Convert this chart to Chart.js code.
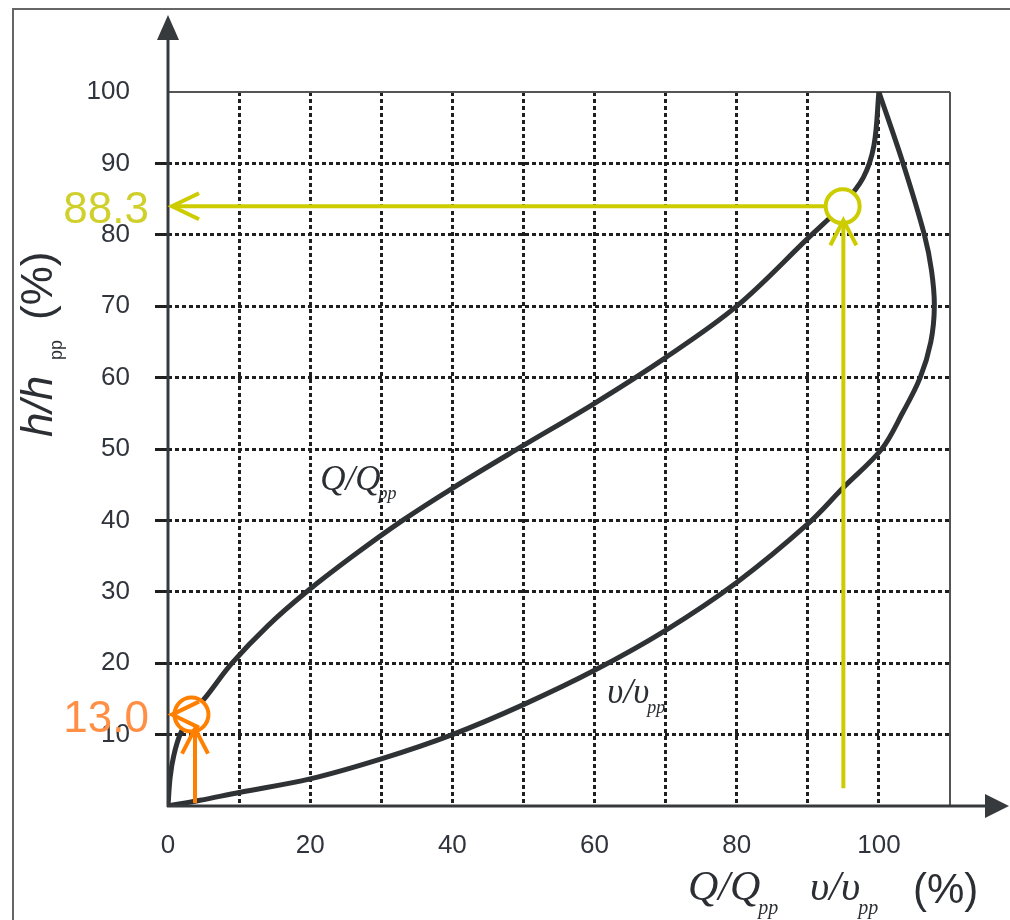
<!DOCTYPE html>
<html>
<head>
<meta charset="utf-8">
<script src="https://cdn.jsdelivr.net/npm/chart.js@4.4.0/dist/chart.umd.min.js"></script>
<style>
  html, body { margin: 0; padding: 0; background: #fff; }
  #wrap { position: relative; width: 1010px; height: 920px; }
</style>
</head>
<body>
<div id="wrap"><canvas id="chart"></canvas></div>
<script>
// Q/Qpp curve : x = Q/Qpp (%), y = h/hpp (%)
const qX = [0, 0.3, 0.8, 1.7, 3.3, 5.5, 9.0, 14.0, 19.5, 26.0, 33.0, 40.0, 50.0, 60.0, 70.0, 80.0, 90.0, 94.9, 97.8, 99.3, 100];
const qY = [0, 4.0, 7.0, 10.0, 12.8, 15.5, 20.0, 25.2, 30.0, 35.0, 40.0, 44.5, 50.5, 56.4, 62.8, 70.0, 79.5, 84.2, 88.0, 92.5, 100];

// v/vpp curve : x = v/vpp (%), y = h/hpp (%)
const vX = [0, 4.5, 10.0, 20.0, 30.0, 40.0, 50.0, 60.0, 70.0, 80.0, 90.0, 95.0, 100.4, 103.3, 105.8, 107.3, 107.8, 107.4, 106.4, 103.4, 100];
const vY = [0, 0.8, 1.9, 3.8, 6.6, 10.0, 14.2, 19.0, 24.6, 31.3, 39.5, 44.6, 50.0, 55.0, 60.0, 65.0, 70.0, 75.0, 80.0, 90.0, 100];

// read-off points (circle + arrows to the h axis)
const markX = [94.9, 3.3];
const markY = [84.0, 12.8];
const markText = ['88.3', '13.0'];
const markColor = ['#cccc00', '#ff8000'];
const markTextColor = ['#d0d02c', '#ff8f45'];
const arrowX = [95.0, 3.8];      // x of the vertical arrows
const arrowFromY = [2.5, 0.4];   // where the vertical arrows start

const xTickLabels = [0, 20, 40, 60, 80, 100];
const yTickLabels = [10, 20, 30, 40, 50, 60, 70, 80, 90, 100];

Chart.defaults.font.family = "'Liberation Sans', Arial, sans-serif";

function chevron(ctx, tx, ty, dx, dy, len, half) {
  const bx = tx - dx * len, by = ty - dy * len;
  ctx.beginPath();
  ctx.moveTo(bx - dy * half, by + dx * half);
  ctx.lineTo(tx, ty);
  ctx.lineTo(bx + dy * half, by - dx * half);
  ctx.stroke();
}

// text with a "pp" subscript
function subText(ctx, main, sub, x, y, font, subFont, subDy) {
  ctx.font = font;
  ctx.fillText(main, x, y);
  const w = ctx.measureText(main).width;
  ctx.font = subFont;
  ctx.fillText(sub, x + w - 2, y + subDy);
}

const decor = {
  id: 'decor',
  afterDraw(chart) {
    const { ctx, scales: { x, y } } = chart;
    const x0 = x.getPixelForValue(0);
    const y0 = y.getPixelForValue(0);
    ctx.save();

    // outer frame
    ctx.strokeStyle = '#666';
    ctx.lineWidth = 2;
    ctx.beginPath();
    ctx.moveTo(13, 920);
    ctx.lineTo(13, 9);
    ctx.lineTo(1010, 9);
    ctx.stroke();

    // axes with arrow heads
    ctx.strokeStyle = '#363a3d';
    ctx.fillStyle = '#363a3d';
    ctx.lineWidth = 3;
    ctx.beginPath();
    ctx.moveTo(x0, y0 + 1);
    ctx.lineTo(x0, 35);
    ctx.moveTo(x0 - 1, y0);
    ctx.lineTo(990, y0);
    ctx.stroke();
    ctx.beginPath();
    ctx.moveTo(x0, 15); ctx.lineTo(x0 - 11, 40); ctx.lineTo(x0 + 11, 40); ctx.closePath();
    ctx.fill();
    ctx.beginPath();
    ctx.moveTo(1009, y0); ctx.lineTo(985, y0 - 12); ctx.lineTo(985, y0 + 12); ctx.closePath();
    ctx.fill();

    // read-off markers
    const r = 17;
    markX.forEach((mx, i) => {
      const cx = x.getPixelForValue(mx);
      const cy = y.getPixelForValue(markY[i]);
      const ax = x.getPixelForValue(arrowX[i]);
      ctx.strokeStyle = markColor[i];
      ctx.lineWidth = 4;
      ctx.beginPath();
      ctx.arc(cx, cy, r, 0, Math.PI * 2);
      ctx.fillStyle = '#fff';
      ctx.fill();
      ctx.stroke();
      // horizontal arrow to the h axis
      const tipX = x0 + 4;
      ctx.beginPath();
      ctx.moveTo(cx - r, cy);
      ctx.lineTo(tipX, cy);
      ctx.stroke();
      chevron(ctx, tipX, cy, -1, 0, 27, 13);
      // vertical arrow from the bottom
      const tipY = cy + r - 3;
      ctx.beginPath();
      ctx.moveTo(ax, y.getPixelForValue(arrowFromY[i]));
      ctx.lineTo(ax, tipY);
      ctx.stroke();
      chevron(ctx, ax, tipY, 0, -1, 25, 13);
      // value label
      ctx.fillStyle = markTextColor[i];
      ctx.font = "44px 'Liberation Sans'";
      ctx.textAlign = 'right';
      ctx.textBaseline = 'middle';
      ctx.fillText(markText[i], 149, cy + 5);
    });

    ctx.textAlign = 'left';
    ctx.textBaseline = 'alphabetic';
    ctx.fillStyle = '#2b2e33';
    const serifI = "italic 35px 'Liberation Serif'";
    const subF = "italic 18px 'Liberation Serif'";

    // curve labels
    subText(ctx, 'Q/Q', 'pp', x.getPixelForValue(21.4), y.getPixelForValue(44.2), serifI, subF, 9);
    subText(ctx, 'υ/υ', 'pp', x.getPixelForValue(61.8), y.getPixelForValue(14.4), serifI, subF, 10);

    // x axis title
    const bigI = "italic 42px 'Liberation Serif'";
    const bigSub = "italic 20px 'Liberation Serif'";
    subText(ctx, 'Q/Q', 'pp', 688, 900, bigI, bigSub, 14);
    subText(ctx, 'υ/υ', 'pp', 810, 900, bigI, bigSub, 14);
    ctx.font = "42px 'Liberation Sans'";
    ctx.fillText('(%)', 913, 903);

    // y axis title (rotated)
    ctx.save();
    ctx.translate(52, 437);
    ctx.rotate(-Math.PI / 2);
    ctx.font = "italic 44px 'Liberation Sans'";
    ctx.fillText('h/h', 0, 0);
    ctx.font = "18px 'Liberation Sans'";
    ctx.fillText('pp', 77, 10);
    ctx.font = "44px 'Liberation Sans'";
    ctx.fillText('(%)', 117, 0);
    ctx.restore();

    ctx.restore();
  }
};

const gridDark = '#1f1f1f';

new Chart(document.getElementById('chart'), {
  type: 'scatter',
  data: {
    datasets: [
      {
        label: 'Q/Qpp',
        data: qX.map((v, i) => ({ x: v, y: qY[i] })),
        showLine: true,
        borderColor: '#2f3234',
        borderWidth: 5,
        borderCapStyle: 'round',
        borderJoinStyle: 'round',
        pointRadius: 0,
        tension: 0.35,
      },
      {
        label: 'v/vpp',
        data: vX.map((v, i) => ({ x: v, y: vY[i] })),
        showLine: true,
        borderColor: '#2f3234',
        borderWidth: 5,
        borderCapStyle: 'round',
        borderJoinStyle: 'round',
        pointRadius: 0,
        tension: 0.35,
      }
    ]
  },
  options: {
    responsive: true,
    maintainAspectRatio: false,
    animation: false,
    layout: { padding: { left: 18, right: 60, top: 92, bottom: 54 } },
    plugins: {
      legend: { display: false },
      tooltip: { enabled: false },
    },
    scales: {
      x: {
        type: 'linear',
        min: 0,
        max: 110,
        afterFit: (s) => { s.height = 60; },
        ticks: {
          stepSize: 10,
          autoSkip: false,
          maxRotation: 0,
          padding: 24,
          color: '#30343c',
          font: { size: 26 },
          callback: (v) => xTickLabels.includes(v) ? String(v) : '',
        },
        grid: {
          drawTicks: false,
          color: (c) => !c.tick ? gridDark : c.tick.value === 0 ? 'rgba(0,0,0,0)' : c.tick.value === 110 ? '#555' : gridDark,
          lineWidth: (c) => (c.tick && c.tick.value === 110) ? 2 : 3,
        },
        border: {
          display: false,
          dash: (c) => (c.tick && c.tick.value === 110) ? [] : [4, 3],
        },
      },
      y: {
        type: 'linear',
        min: 0,
        max: 100,
        afterFit: (s) => { s.width = 150; },
        ticks: {
          stepSize: 10,
          autoSkip: false,
          padding: 25,
          color: '#30343c',
          font: { size: 26 },
          callback: (v) => yTickLabels.includes(v) ? String(v) : '',
        },
        grid: {
          tickLength: 13,
          color: (c) => !c.tick ? gridDark : c.tick.value === 0 ? 'rgba(0,0,0,0)' : c.tick.value === 100 ? '#555' : gridDark,
          tickColor: (c) => (c.tick && (c.tick.value === 100 || c.tick.value === 0)) ? 'rgba(0,0,0,0)' : gridDark,
          lineWidth: (c) => (c.tick && c.tick.value === 100) ? 2 : 3,
        },
        border: {
          display: false,
          dash: (c) => (c.tick && c.tick.value === 100) ? [] : [4, 3],
        },
      }
    }
  },
  plugins: [decor]
});
</script>
</body>
</html>
